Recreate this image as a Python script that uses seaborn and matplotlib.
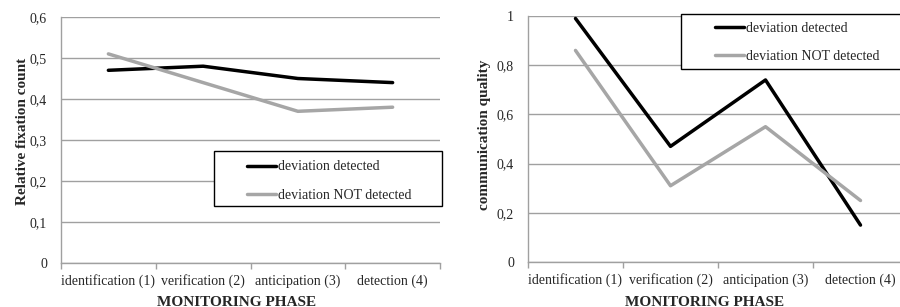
import pandas as pd
import seaborn as sns
import matplotlib.pyplot as plt
from matplotlib.patches import Rectangle
from matplotlib.ticker import FuncFormatter

# data
phases = ['identification (1)', 'verification (2)', 'anticipation (3)', 'detection (4)']
series_names = ['deviation detected', 'deviation NOT detected']
fixation_detected = [0.47, 0.48, 0.45, 0.44]
fixation_not_detected = [0.51, 0.44, 0.37, 0.38]
quality_detected = [0.99, 0.47, 0.74, 0.15]
quality_not_detected = [0.86, 0.31, 0.55, 0.25]


def long_form(detected, not_detected):
    rows = []
    for name, vals in zip(series_names, [detected, not_detected]):
        for ph, v in zip(phases, vals):
            rows.append({'phase': ph, 'value': v, 'group': name})
    return pd.DataFrame(rows)


sns.set_theme(style='white')
plt.rcParams['font.family'] = ['Liberation Serif', 'DejaVu Serif']

palette = {'deviation detected': 'black', 'deviation NOT detected': '#a6a6a6'}
W, H = 900, 307
fig = plt.figure(figsize=(W / 100, H / 100), dpi=100)


def px_axes(x0, x1, ytop, ybot):
    return fig.add_axes([x0 / W, 1 - ybot / H, (x1 - x0) / W, (ybot - ytop) / H])


def comma(v, p):
    if abs(v - round(v)) < 1e-9:
        return str(int(round(v)))
    return f'{v:.1f}'.replace('.', ',')


def style_axes(ax, ymax, step):
    ax.set_xlim(-0.5, 3.5)
    ax.set_ylim(0, ymax)
    ticks = [i * step for i in range(int(round(ymax / step)) + 1)]
    ax.set_yticks(ticks)
    ax.yaxis.set_major_formatter(FuncFormatter(comma))
    ax.set_xticks([-0.5, 0.5, 1.5, 2.5, 3.5])
    ax.set_xticklabels([])
    ax.set_xticks(range(4), minor=True)
    ax.set_xticklabels(phases, minor=True, fontsize=10)
    ax.tick_params(axis='x', which='major', length=4, color='#a0a0a0', width=1, direction='out', bottom=True)
    ax.tick_params(axis='x', which='minor', length=0, pad=8)
    ax.tick_params(axis='y', length=0, labelsize=10, pad=10)
    ax.grid(axis='y', color='#a0a0a0', lw=1)
    ax.grid(axis='x', visible=False)
    for s in ['top', 'right']:
        ax.spines[s].set_visible(False)
    for s in ['left', 'bottom']:
        ax.spines[s].set_color('#a0a0a0')
        ax.spines[s].set_linewidth(1)
    ax.set_xlabel('')


def boxed_legend(ax, frame, handle_x, mid_y):
    # frame = (left, top, right, bottom) in pixels
    x0, y0, x1, y1 = frame
    ax.add_patch(Rectangle((x0 / W, 1 - y1 / H), (x1 - x0) / W, (y1 - y0) / H,
                           transform=fig.transFigure, clip_on=False, facecolor='white',
                           edgecolor='black', lw=1, zorder=4.5))
    leg = ax.legend(loc='center left', bbox_to_anchor=(handle_x / W, 1 - mid_y / H),
                    bbox_transform=fig.transFigure, frameon=False, fontsize=10,
                    handlelength=2.1, handletextpad=0.1, borderpad=0, borderaxespad=0,
                    labelspacing=1.1)
    leg.set_zorder(6)
    for line in leg.get_lines():
        line.set_linewidth(2.5)


def place_ylabel(ax, text, right_px, center_px, box):
    x0, x1, ytop, ybot = box
    ax.set_ylabel(text, fontsize=11, fontweight='bold')
    ax.yaxis.set_label_coords((right_px - x0) / (x1 - x0), (ybot - center_px) / (ybot - ytop))


# left panel
box1 = (61, 440, 17, 263)
ax1 = px_axes(*box1)
sns.lineplot(data=long_form(fixation_detected, fixation_not_detected), x='phase', y='value',
             hue='group', palette=palette, lw=2.5, ax=ax1, sort=False)
style_axes(ax1, 0.6, 0.1)
place_ylabel(ax1, 'Relative fixation count', 29, 131, box1)
boxed_legend(ax1, (214, 151, 442, 206), 247, 181)

# right panel
box2 = (528, 908, 16, 262)
ax2 = px_axes(*box2)
sns.lineplot(data=long_form(quality_detected, quality_not_detected), x='phase', y='value',
             hue='group', palette=palette, lw=2.5, ax=ax2, sort=False)
style_axes(ax2, 1.0, 0.2)
place_ylabel(ax2, 'communication quality', 491, 135, box2)
boxed_legend(ax2, (681, 14, 905, 69), 715, 42.5)

fig.text(237 / W, 1 - 302 / H, 'MONITORING PHASE', ha='center', va='center', fontsize=11, fontweight='bold')
fig.text(705 / W, 1 - 302 / H, 'MONITORING PHASE', ha='center', va='center', fontsize=11, fontweight='bold')

fig.savefig('out.png', dpi=100, facecolor='white')
